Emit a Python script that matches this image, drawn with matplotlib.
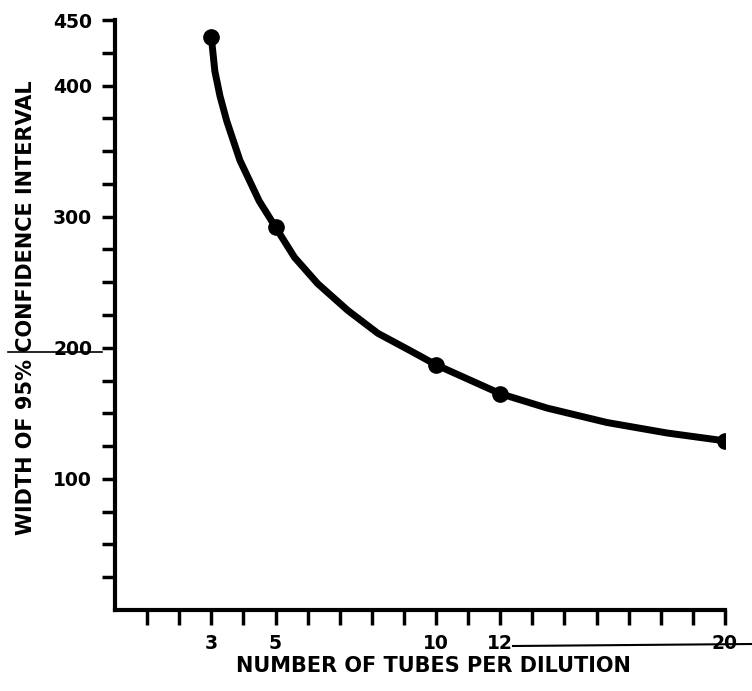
import numpy as np
import matplotlib
matplotlib.use("Agg")
import matplotlib.pyplot as plt
from matplotlib.lines import Line2D

# ---- data ----
tubes = [3, 5, 10, 12, 20]
width_ci = [437, 292, 187, 165, 129]

curve_x = [3, 3.11, 3.27, 3.48, 3.89, 4.49, 5, 5.59, 6.31, 7.25, 8.19, 9.18, 10, 12, 13.67, 15.8, 17.94, 20]
curve_y = [437, 411, 392, 373, 343, 312, 292, 269, 249, 228.5, 211, 198, 187, 165, 154, 143, 135, 129]

x_tick_labels = ["", "", "3", "", "5", "", "", "", "", "10", "", "12", "", "", "", "", "", "", "20"]
y_tick_values = list(range(25, 451, 25))
y_labelled = [100, 200, 300, 400, 450]

# The drafted x axis has 19 evenly spaced ticks with the last one labelled 20
# (above 12 the scale is compressed): reproduce with a function scale.
def fwd(x):
    x = np.asarray(x, dtype=float)
    return np.where(x <= 12, x, 12 + (x - 12) * 7.0 / 8.0)

def inv(u):
    u = np.asarray(u, dtype=float)
    return np.where(u <= 12, u, 12 + (u - 12) * 8.0 / 7.0)

W, H = 752, 691
fig = plt.figure(figsize=(W / 100, H / 100), dpi=100)
ax = fig.add_axes([115 / W, 1 - 610 / H, 610 / W, 590 / H])

ax.set_xscale("function", functions=(fwd, inv))
ax.set_xlim(0, 20)
ax.set_ylim(0, 450)

ax.plot(curve_x, curve_y, color="black", lw=5, solid_capstyle="round",
        solid_joinstyle="round", zorder=3)
ax.plot(tubes, width_ci, "o", color="black", ms=11, zorder=4)

for s in ["top", "right"]:
    ax.spines[s].set_visible(False)
for s in ["left", "bottom"]:
    ax.spines[s].set_linewidth(3)
    ax.spines[s].set_capstyle("projecting")

xt = inv(np.arange(1, 20))
ax.set_xticks(xt)
ax.set_xticklabels(x_tick_labels)
ax.set_yticks(y_tick_values)
ax.set_yticklabels([str(v) if v in y_labelled else "" for v in y_tick_values])

ax.tick_params(axis="x", direction="out", length=11, width=2.5, pad=6)
ax.tick_params(axis="y", direction="out", length=9.5, width=2.5, pad=7)
for lab in ax.get_xticklabels() + ax.get_yticklabels():
    lab.set_fontweight("bold")
    lab.set_fontsize(13.5)
    lab.set_fontfamily("DejaVu Sans")

fig.text(433 / W, 1 - 666 / H, "NUMBER OF TUBES PER DILUTION", ha="center", va="center",
         fontsize=15, fontweight="bold", family="DejaVu Sans")
fig.text(26 / W, 1 - 308 / H, "WIDTH OF 95% CONFIDENCE INTERVAL", ha="center", va="center",
         rotation=90, fontsize=15, fontweight="bold", family="DejaVu Sans")

# hand-drawn underlines present in the scan
fig.add_artist(Line2D([8 / W, 102 / W], [1 - 352 / H, 1 - 352 / H], color="black", lw=1.2))
fig.add_artist(Line2D([513 / W, 752 / W], [1 - 646 / H, 1 - 644 / H], color="black", lw=1.5))

fig.savefig("out.png", dpi=100)
